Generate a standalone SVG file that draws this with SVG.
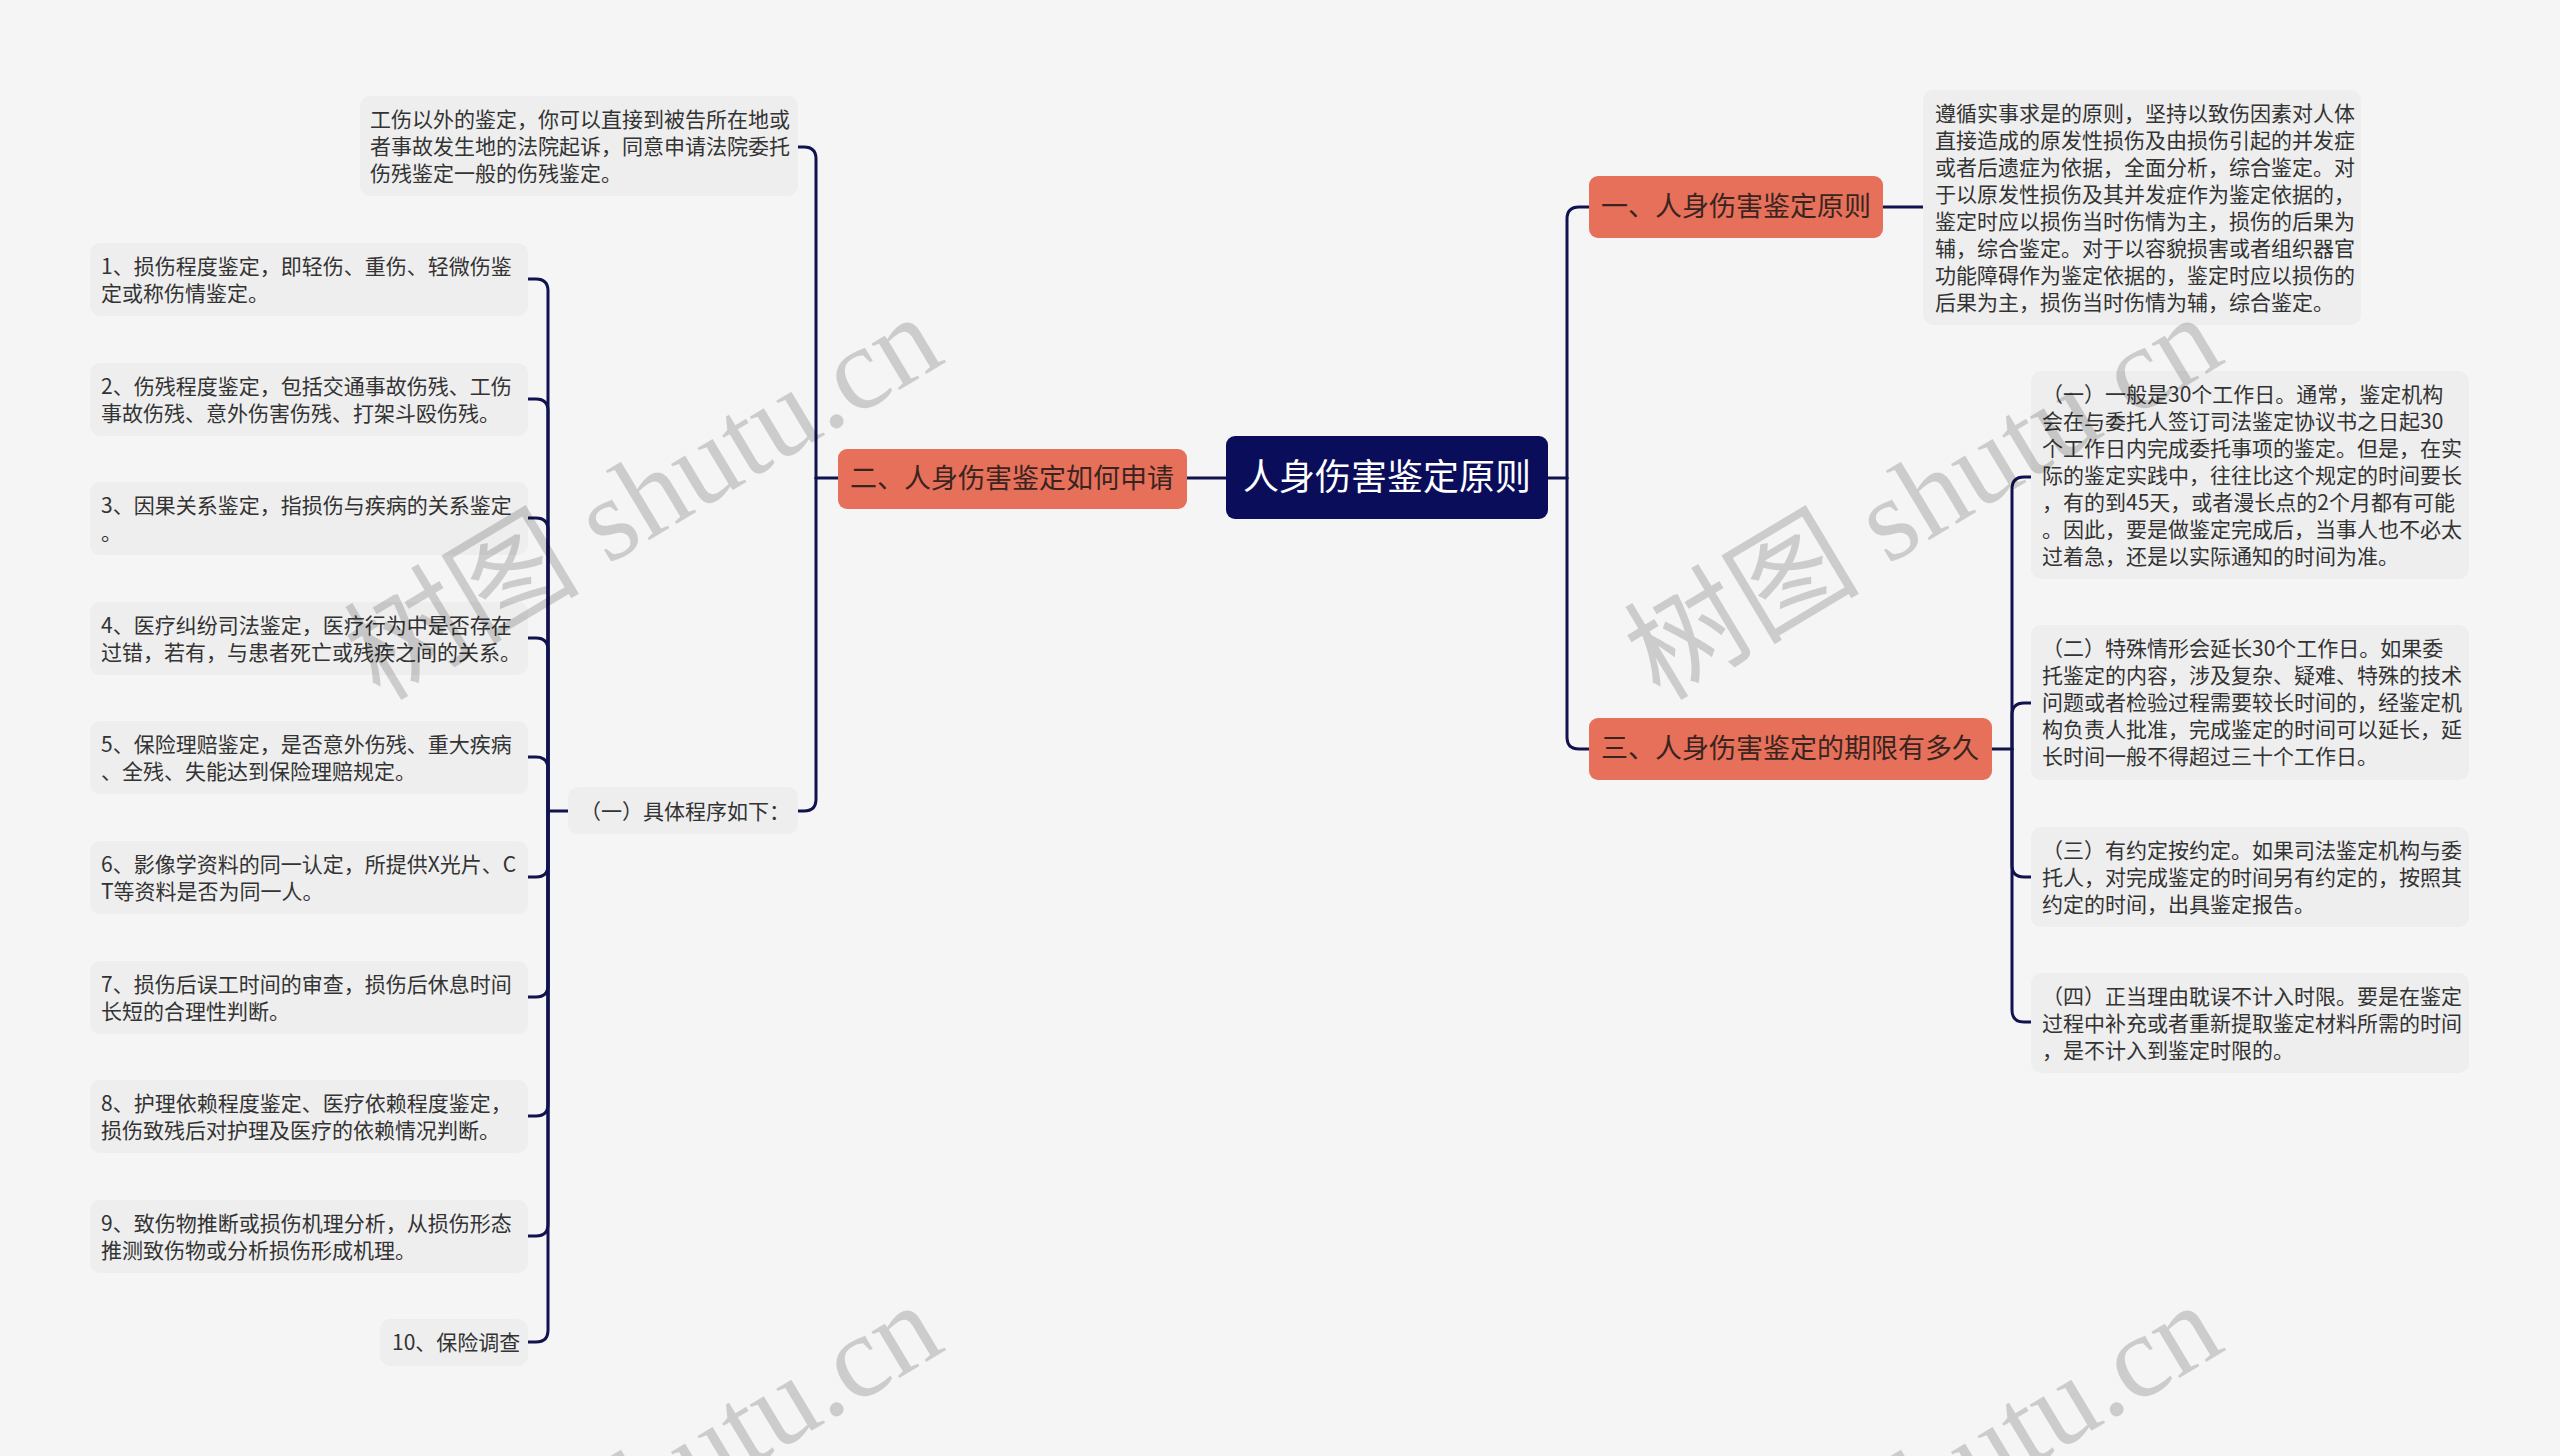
<svg xmlns="http://www.w3.org/2000/svg" width="2560" height="1456" viewBox="0 0 2560 1456">
<style>
.conn{fill:none;stroke:#10134f;stroke-width:3;stroke-linecap:round;stroke-linejoin:round}
.box{fill:#eeeeee}
.t{font-family:"Noto Sans CJK SC","Noto Sans",sans-serif;font-size:21px;fill:#333333}
.br{fill:#e7705b}
.bt{font-family:"Noto Sans CJK SC","Noto Sans",sans-serif;font-size:27px;fill:#3a2420;text-anchor:middle}
.root{fill:#0a0e5a}
.rt{font-family:"Noto Sans CJK SC","Noto Sans",sans-serif;font-size:36px;fill:#ffffff;text-anchor:middle}
.wm{font-family:"Liberation Serif","Noto Sans CJK SC",serif;font-size:118px;fill:#000000;opacity:0.16}
</style>
<rect x="0" y="0" width="2560" height="1456" fill="#f5f5f5"/>

<g id="connectors">
<path class="conn" d="M1226,478 H1187"/>
<path class="conn" d="M838,478 H816"/>
<path class="conn" d="M816,478 V159 Q816,147 804,147 H798"/>
<path class="conn" d="M816,478 V799 Q816,811 804,811 H798"/>
<path class="conn" d="M568,811 H548"/>
<path class="conn" d="M548,811 V291 Q548,279 536,279 H528"/>
<path class="conn" d="M548,811 V411 Q548,399 536,399 H528"/>
<path class="conn" d="M548,811 V530 Q548,518 536,518 H528"/>
<path class="conn" d="M548,811 V650 Q548,638 536,638 H528"/>
<path class="conn" d="M548,811 V769 Q548,757 536,757 H528"/>
<path class="conn" d="M548,811 V865 Q548,877 536,877 H528"/>
<path class="conn" d="M548,811 V985 Q548,997 536,997 H528"/>
<path class="conn" d="M548,811 V1104 Q548,1116 536,1116 H528"/>
<path class="conn" d="M548,811 V1224 Q548,1236 536,1236 H528"/>
<path class="conn" d="M548,811 V1330 Q548,1342 536,1342 H528"/>
<path class="conn" d="M1548,478 H1567"/>
<path class="conn" d="M1567,478 V219 Q1567,207 1579,207 H1589"/>
<path class="conn" d="M1567,478 V737 Q1567,749 1579,749 H1589"/>
<path class="conn" d="M1883,207 H1923"/>
<path class="conn" d="M1992,749 H2012"/>
<path class="conn" d="M2012,749 V489 Q2012,477 2024,477 H2031"/>
<path class="conn" d="M2012,749 V715 Q2012,703 2024,703 H2031"/>
<path class="conn" d="M2012,749 V865 Q2012,877 2024,877 H2031"/>
<path class="conn" d="M2012,749 V1010 Q2012,1022 2024,1022 H2031"/>
</g>

<g id="root">
<rect class="root" x="1226" y="436" width="322" height="83" rx="9"/>
<text class="rt" x="1387" y="490">人身伤害鉴定原则</text>
</g>

<g id="branch2">
<rect class="br" x="838" y="449" width="349" height="60" rx="9"/>
<text class="bt" x="1012" y="488">二、人身伤害鉴定如何申请</text>
</g>

<g id="branch1">
<rect class="br" x="1589" y="176" width="294" height="62" rx="9"/>
<text class="bt" x="1736" y="216">一、人身伤害鉴定原则</text>
</g>

<g id="branch3">
<rect class="br" x="1589" y="718" width="403" height="62" rx="9"/>
<text class="bt" x="1790" y="758">三、人身伤害鉴定的期限有多久</text>
</g>

<g id="n-apply-note">
<rect class="box" x="360" y="96" width="438" height="100" rx="10"/>
<text class="t" x="370" y="127">工伤以外的鉴定，你可以直接到被告所在地或</text>
<text class="t" x="370" y="154">者事故发生地的法院起诉，同意申请法院委托</text>
<text class="t" x="370" y="181">伤残鉴定一般的伤残鉴定。</text>
</g>

<g id="n-procedure">
<rect class="box" x="568" y="787" width="230" height="47" rx="10"/>
<text class="t" x="580" y="819">（一）具体程序如下：</text>
</g>

<g id="n-item1">
<rect class="box" x="90" y="243" width="438" height="73" rx="10"/>
<text class="t" x="101" y="274">1、损伤程度鉴定，即轻伤、重伤、轻微伤鉴</text>
<text class="t" x="101" y="301">定或称伤情鉴定。</text>
</g>
<g id="n-item2">
<rect class="box" x="90" y="363" width="438" height="73" rx="10"/>
<text class="t" x="101" y="394">2、伤残程度鉴定，包括交通事故伤残、工伤</text>
<text class="t" x="101" y="421">事故伤残、意外伤害伤残、打架斗殴伤残。</text>
</g>
<g id="n-item3">
<rect class="box" x="90" y="482" width="438" height="73" rx="10"/>
<text class="t" x="101" y="513">3、因果关系鉴定，指损伤与疾病的关系鉴定</text>
<text class="t" x="101" y="540">。</text>
</g>
<g id="n-item4">
<rect class="box" x="90" y="602" width="438" height="73" rx="10"/>
<text class="t" x="101" y="633">4、医疗纠纷司法鉴定，医疗行为中是否存在</text>
<text class="t" x="101" y="660">过错，若有，与患者死亡或残疾之间的关系。</text>
</g>
<g id="n-item5">
<rect class="box" x="90" y="721" width="438" height="73" rx="10"/>
<text class="t" x="101" y="752">5、保险理赔鉴定，是否意外伤残、重大疾病</text>
<text class="t" x="101" y="779">、全残、失能达到保险理赔规定。</text>
</g>
<g id="n-item6">
<rect class="box" x="90" y="841" width="438" height="73" rx="10"/>
<text class="t" x="101" y="872">6、影像学资料的同一认定，所提供X光片、C</text>
<text class="t" x="101" y="899">T等资料是否为同一人。</text>
</g>
<g id="n-item7">
<rect class="box" x="90" y="961" width="438" height="73" rx="10"/>
<text class="t" x="101" y="992">7、损伤后误工时间的审查，损伤后休息时间</text>
<text class="t" x="101" y="1019">长短的合理性判断。</text>
</g>
<g id="n-item8">
<rect class="box" x="90" y="1080" width="438" height="73" rx="10"/>
<text class="t" x="101" y="1111">8、护理依赖程度鉴定、医疗依赖程度鉴定，</text>
<text class="t" x="101" y="1138">损伤致残后对护理及医疗的依赖情况判断。</text>
</g>
<g id="n-item9">
<rect class="box" x="90" y="1200" width="438" height="73" rx="10"/>
<text class="t" x="101" y="1231">9、致伤物推断或损伤机理分析，从损伤形态</text>
<text class="t" x="101" y="1258">推测致伤物或分析损伤形成机理。</text>
</g>
<g id="n-item10">
<rect class="box" x="380" y="1319" width="148" height="47" rx="10"/>
<text class="t" x="392" y="1350">10、保险调查</text>
</g>

<g id="n-principle">
<rect class="box" x="1923" y="90" width="438" height="235" rx="10"/>
<text class="t" x="1935" y="121">遵循实事求是的原则，坚持以致伤因素对人体</text>
<text class="t" x="1935" y="148">直接造成的原发性损伤及由损伤引起的并发症</text>
<text class="t" x="1935" y="175">或者后遗症为依据，全面分析，综合鉴定。对</text>
<text class="t" x="1935" y="202">于以原发性损伤及其并发症作为鉴定依据的，</text>
<text class="t" x="1935" y="229">鉴定时应以损伤当时伤情为主，损伤的后果为</text>
<text class="t" x="1935" y="256">辅，综合鉴定。对于以容貌损害或者组织器官</text>
<text class="t" x="1935" y="283">功能障碍作为鉴定依据的，鉴定时应以损伤的</text>
<text class="t" x="1935" y="310">后果为主，损伤当时伤情为辅，综合鉴定。</text>
</g>

<g id="n-term1">
<rect class="box" x="2031" y="371" width="438" height="208" rx="10"/>
<text class="t" x="2042" y="402">（一）一般是30个工作日。通常，鉴定机构</text>
<text class="t" x="2042" y="429">会在与委托人签订司法鉴定协议书之日起30</text>
<text class="t" x="2042" y="456">个工作日内完成委托事项的鉴定。但是，在实</text>
<text class="t" x="2042" y="483">际的鉴定实践中，往往比这个规定的时间要长</text>
<text class="t" x="2042" y="510">，有的到45天，或者漫长点的2个月都有可能</text>
<text class="t" x="2042" y="537">。因此，要是做鉴定完成后，当事人也不必太</text>
<text class="t" x="2042" y="564">过着急，还是以实际通知的时间为准。</text>
</g>
<g id="n-term2">
<rect class="box" x="2031" y="625" width="438" height="155" rx="10"/>
<text class="t" x="2042" y="656">（二）特殊情形会延长30个工作日。如果委</text>
<text class="t" x="2042" y="683">托鉴定的内容，涉及复杂、疑难、特殊的技术</text>
<text class="t" x="2042" y="710">问题或者检验过程需要较长时间的，经鉴定机</text>
<text class="t" x="2042" y="737">构负责人批准，完成鉴定的时间可以延长，延</text>
<text class="t" x="2042" y="764">长时间一般不得超过三十个工作日。</text>
</g>
<g id="n-term3">
<rect class="box" x="2031" y="827" width="438" height="100" rx="10"/>
<text class="t" x="2042" y="858">（三）有约定按约定。如果司法鉴定机构与委</text>
<text class="t" x="2042" y="885">托人，对完成鉴定的时间另有约定的，按照其</text>
<text class="t" x="2042" y="912">约定的时间，出具鉴定报告。</text>
</g>
<g id="n-term4">
<rect class="box" x="2031" y="973" width="438" height="100" rx="10"/>
<text class="t" x="2042" y="1004">（四）正当理由耽误不计入时限。要是在鉴定</text>
<text class="t" x="2042" y="1031">过程中补充或者重新提取鉴定材料所需的时间</text>
<text class="t" x="2042" y="1058">，是不计入到鉴定时限的。</text>
</g>

<g id="watermarks">
<text class="wm" transform="translate(380,702) rotate(-31)">树图 shutu.cn</text>
<text class="wm" transform="translate(1660,702) rotate(-31)">树图 shutu.cn</text>
<text class="wm" transform="translate(380,1690) rotate(-31)">树图 shutu.cn</text>
<text class="wm" transform="translate(1660,1690) rotate(-31)">树图 shutu.cn</text>
</g>
</svg>
